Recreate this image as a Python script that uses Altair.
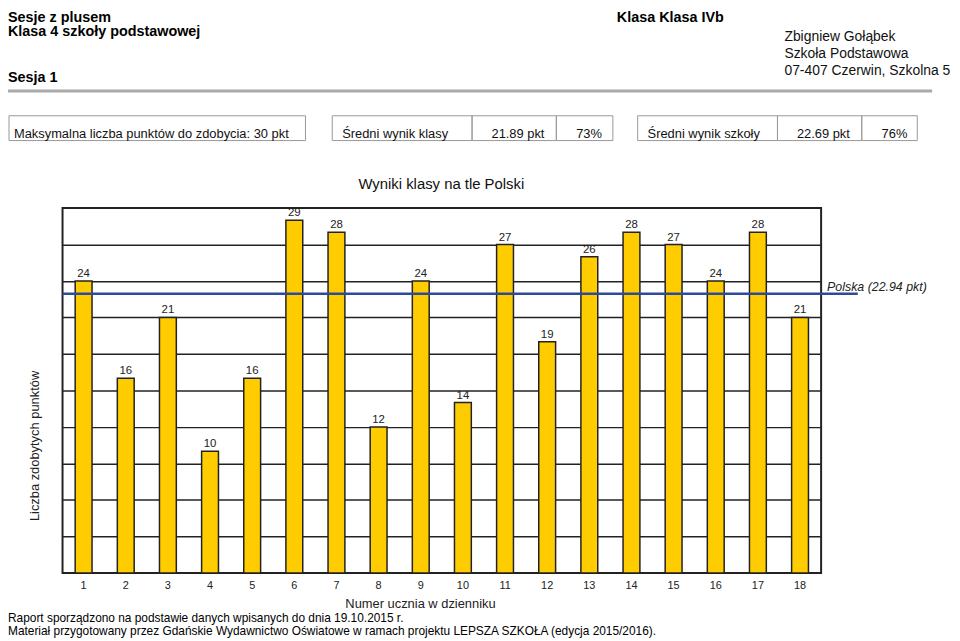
import altair as alt
import pandas as pd

# ---- data -------------------------------------------------------------
students = [str(i) for i in range(1, 19)]
scores = [24, 16, 21, 10, 16, 29, 28, 12, 24, 14, 27, 19, 26, 28, 27, 24, 28, 21]
poland_mean = 22.94
grid_values = [3, 6, 9, 12, 15, 18, 21, 24, 27]

header_left = ["Sesje z plusem", "Klasa 4 szkoły podstawowej", "Sesja 1"]
header_center = "Klasa Klasa IVb"
header_right = ["Zbigniew Gołąbek", "Szkoła Podstawowa", "07-407 Czerwin, Szkolna 5"]
box_max = "Maksymalna liczba punktów do zdobycia: 30 pkt"
box_class = ["Średni wynik klasy", "21.89 pkt", "73%"]
box_school = ["Średni wynik szkoły", "22.69 pkt", "76%"]
chart_title = "Wyniki klasy na tle Polski"
x_title = "Numer ucznia w dzienniku"
y_title = "Liczba zdobytych punktów"
polska_label = "Polska (22.94 pkt)"
footer = [
    "Raport sporządzono na podstawie danych wpisanych do dnia 19.10.2015 r.",
    "Materiał przygotowany przez Gdańskie Wydawnictwo Oświatowe w ramach projektu LEPSZA SZKOŁA (edycja 2015/2016).",
]

df = pd.DataFrame({"student": students, "score": scores})
one = pd.DataFrame({"k": [0]})

FONT = "Liberation Sans"
W, H = 765, 368

x_enc = alt.X(
    "student:O",
    sort=students,
    scale=alt.Scale(paddingInner=0.6, paddingOuter=0.3),
    axis=alt.Axis(
        title=None, labelAngle=0, ticks=False, domain=False, grid=False,
        labelFontSize=11, labelColor="#222", labelPadding=7, labelFont=FONT,
    ),
)
y_enc = alt.Y(
    "score:Q",
    scale=alt.Scale(domain=[0, 30], nice=False, zero=True),
    axis=alt.Axis(
        title=None, labels=False, ticks=False, domain=False, grid=True,
        values=grid_values, gridColor="#222", gridWidth=1.5, gridOpacity=1,
    ),
)

base = alt.Chart(df)
bars = base.mark_bar(fill="#FFCC00", stroke="#222", strokeWidth=1.5).encode(x=x_enc, y=y_enc)
bar_labels = base.mark_text(
    baseline="bottom", dy=-2, fontSize=11.5, color="#222", font=FONT
).encode(x=alt.X("student:O", sort=students), y="score:Q", text="score:Q")

polska_rule = alt.Chart(one).mark_rule(color="#2E4B9B", strokeWidth=2.5).encode(
    y=alt.datum(poland_mean), x=alt.value(0), x2=alt.value(802)
)
polska_text = alt.Chart(one).mark_text(
    align="left", baseline="middle", dy=-7, fontSize=12.5, fontStyle="italic",
    color="#222", font=FONT, text=polska_label,
).encode(y=alt.datum(poland_mean), x=alt.value(771))


def txt(s, x, y, size=13, weight="normal", align="left", color="#111", angle=0, baseline="alphabetic"):
    return alt.Chart(one).mark_text(
        text=s, align=align, baseline=baseline, fontSize=size, fontWeight=weight,
        color=color, font=FONT, angle=angle,
    ).encode(x=alt.value(x), y=alt.value(y))


def box(x0, x1, y0=-93, y1=-68):
    return alt.Chart(one).mark_rect(
        fill="white", fillOpacity=0, stroke="#999", strokeWidth=1
    ).encode(x=alt.value(x0), x2=alt.value(x1), y=alt.value(y0), y2=alt.value(y1))


decor = [
    txt(header_left[0], -55, -188, 14.5, "bold", color="#000"),
    txt(header_left[1], -55, -173, 14.5, "bold", color="#000"),
    txt(header_left[2], -55, -127, 14.5, "bold", color="#000"),
    txt(header_center, 559, -188, 14.5, "bold", color="#000"),
    txt(header_right[0], 728, -168, 14),
    txt(header_right[1], 728, -151, 14),
    txt(header_right[2], 728, -134, 14),
    alt.Chart(one).mark_rule(color="#aaaaaa", strokeWidth=3).encode(
        x=alt.value(-63), x2=alt.value(877), y=alt.value(-118)
    ),
    box(-54, 245),
    box(272, 413), box(413, 498), box(498, 555),
    box(580, 721), box(721, 806), box(806, 862),
    txt(box_max, -49, -71, 13),
    txt(box_class[0], 282, -71, 13),
    txt(box_class[1], 486, -71, 13, align="right"),
    txt(box_class[2], 544, -71, 13, align="right"),
    txt(box_school[0], 590, -71, 13),
    txt(box_school[1], 794, -71, 13, align="right"),
    txt(box_school[2], 852, -71, 13, align="right"),
    txt(chart_title, 382, -19, 15, align="center"),
    txt(y_title, -28, 240, 13, align="center", angle=270, baseline="middle", color="#222"),
    txt(x_title, 361, 403, 13, align="center", color="#222"),
    txt(footer[0], -55, 418, 12, color="#000"),
    txt(footer[1], -55, 431, 12, color="#000"),
]

chart = alt.layer(
    bars, bar_labels, polska_rule, polska_text, *decor
).properties(
    width=W, height=H,
    autosize=alt.AutoSizeParams(type="none"),
    padding={"left": 55, "top": 199, "right": 132, "bottom": 66},
    background="white",
).configure_view(stroke="#222", strokeWidth=2).configure_text(font=FONT)

chart.save("out.html", embed_options={"renderer": "svg", "actions": False})
